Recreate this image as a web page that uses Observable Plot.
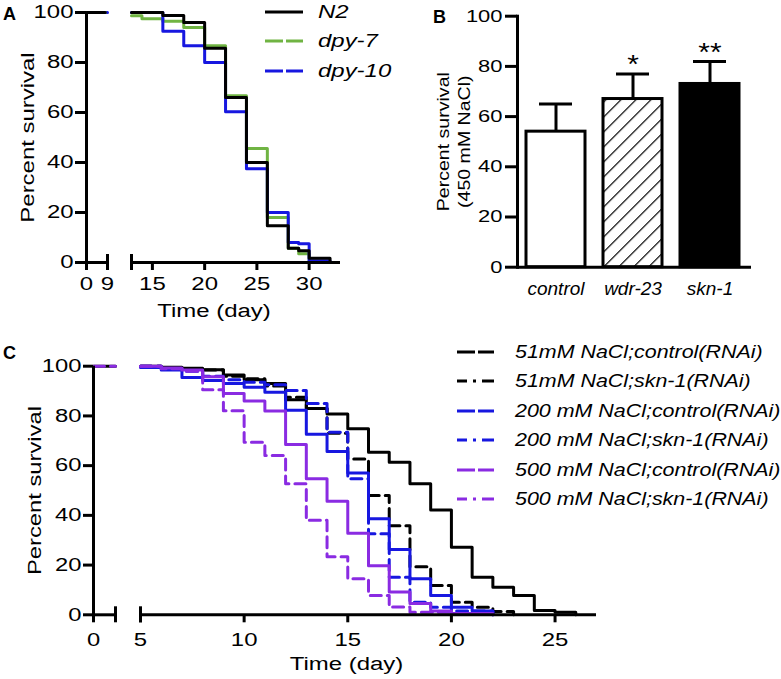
<!DOCTYPE html>
<html><head><meta charset="utf-8">
<script src="https://cdn.jsdelivr.net/npm/d3@7"></script>
<script src="https://cdn.jsdelivr.net/npm/@observablehq/plot@0.6"></script>
<style>
body{margin:0;background:#fff;}
#fig{position:relative;width:781px;height:679px;overflow:hidden;font-family:"Liberation Sans",Arial,Helvetica,sans-serif;color:#000;}
.lab{position:absolute;font-weight:bold;font-size:18px;line-height:18px;}
.legrow{position:absolute;height:18px;line-height:18px;white-space:nowrap;font-size:18px;font-style:italic;}
.legrow svg{position:absolute;left:0;top:0;overflow:visible;}
.legrow span{position:absolute;top:0;display:inline-block;transform-origin:0 50%;}
</style></head><body><div id="fig"></div>
<script>
// ---------- DATA ----------
// Panel A: survival (%) of N2, dpy-7, dpy-10; value at a day holds until the next day listed
const aEarlyDays = [0, 8];
const aEarlyDaysDpy10 = [0, 9];
const aEarlySurv = [100, 100];
const aN2Days = [13, 16, 18, 20, 22, 24, 26, 28, 29, 30, 32];
const aN2Surv = [100, 98.8, 96, 85.7, 66, 40, 14.7, 5.7, 4.7, 1.7, 0];
const aDpy7Days = [13, 14, 16, 18, 20, 22, 24, 26, 28, 29, 30];
const aDpy7Surv = [98.7, 97.5, 96.5, 94, 86.7, 66.7, 45.6, 18, 5.7, 3.5, 0];
const aDpy10Days = [13, 16, 18, 20, 22, 24, 26, 28, 29, 30, 32];
const aDpy10Surv = [100, 92.5, 86.7, 80, 60.3, 37.5, 20, 8, 7.5, 0.7, 0];
const aYTicks = [0, 20, 40, 60, 80, 100];
const aLeftTicks = [0, 9];
const aRightTicks = [15, 20, 25, 30];
const aLegend = ["N2", "dpy-7", "dpy-10"];

// Panel B: percent survival on 450 mM NaCl
const bCats = ["control", "wdr-23", "skn-1"];
const bMean = [54, 67, 73];
const bUpper = [65, 77, 82];
const bSig = ["", "*", "**"];
const bYTicks = [0, 20, 40, 60, 80, 100];

// Panel C: survival (%) from day 5 onward, one value per day
const cEarlyDays = [0, 1];
const cEarlySurv = [100, 100];
const cDays = [5, 6, 7, 8, 9, 10, 11, 12, 13, 14, 15, 16, 17, 18, 19, 20, 21, 22, 23, 24, 25, 26, 27];
const c51Control = [100, 99.6, 99.2, 98.6, 96.5, 94.5, 93, 86.5, 83, 80.8, 74.8, 65.4, 61.4, 52.7, 42.2, 27.2, 15.1, 11.1, 7.8, 1.7, 1.0, 0];
const c51Skn1 = [100, 99.5, 99, 98.5, 96, 95, 92, 87.5, 83, 73, 62.7, 48, 35.8, 19.3, 11.8, 5, 3, 1.3, 0];
const c200Control = [99.5, 98.5, 95.5, 94.2, 93, 91.5, 89.5, 82.3, 72.6, 65.7, 57, 38.6, 26.3, 14.5, 7.8, 3, 1.5, 0];
const c200Skn1 = [100, 99, 98, 96, 94.5, 93.5, 92.5, 90.2, 85, 73.4, 54.7, 32.6, 15.1, 5, 3, 1.5, 1.5, 0];
const c500Control = [100, 99.3, 98.5, 95.8, 89, 86, 82, 68.5, 54.7, 45.7, 32.8, 19.7, 9.2, 4.5, 1.5, 0.5, 0.5, 0];
const c500Skn1 = [100, 99, 98, 90.5, 82.1, 69.4, 64.1, 52.7, 38, 23.4, 14.5, 7.8, 3.1, 1, 1, 0];
const cYTicks = [0, 20, 40, 60, 80, 100];
const cLeftTicks = [0];
const cRightTicks = [5, 10, 15, 20, 25];
const cLegend = ["51mM NaCl;control(RNAi)", "51mM NaCl;skn-1(RNAi)", "200 mM NaCl;control(RNAi)",
                 "200 mM NaCl;skn-1(RNAi)", "500 mM NaCl;control(RNAi)", "500 mM NaCl;skn-1(RNAi)"];

// ---------- STYLE ----------
const FONT = "'Liberation Sans', Arial, Helvetica, sans-serif";
const GREEN = "#70b443", BLUE = "#1717e0", PURPLE = "#8a2be2";
const SW = 3;
const DASH = "11,6";
const baseStyle = {fontFamily: FONT, background: "transparent", overflow: "visible", fontSize: "18px", color: "black"};
const fig = document.getElementById("fig");
const fmt = d3.format("d");

function steps(days, vals) { return vals.map((v, i) => ({day: days[i], v})); }
function place(svg, left, top) {
  svg.style.position = "absolute"; svg.style.left = left + "px"; svg.style.top = top + "px";
  fig.appendChild(svg); return svg;
}
function stretch(svg, f, sel) {
  svg.querySelectorAll(sel || "text").forEach(t => {
    const parts = t.querySelectorAll("tspan");
    const els = parts.length ? Array.from(parts) : [t];
    els.forEach(e => {
      const L = e.getComputedTextLength();
      if (L > 0) { e.setAttribute("textLength", (L * f).toFixed(2)); e.setAttribute("lengthAdjust", "spacingAndGlyphs"); }
    });
  });
}
function stepLine(days, vals, stroke, dash) {
  return Plot.line(steps(days, vals), {x: "day", y: "v", curve: "step-after", stroke, strokeWidth: SW, strokeDasharray: dash || null});
}
const yAxis = (ticks, size, pad, fs) => Plot.axisY({ticks, tickSize: size, tickPadding: pad, strokeWidth: SW, fontSize: fs, label: null, tickFormat: fmt});
const xAxis = (ticks, pad) => Plot.axisX({ticks, tickSize: 8, tickPadding: pad, strokeWidth: SW, fontSize: 18, label: null, tickFormat: fmt});
const cap = (v) => Plot.ruleX([v], {y1: 0, y2: 0, insetTop: 8, insetBottom: 8, strokeWidth: SW});
const yTitle = (t, dx, fs, lh) => Plot.text([t], {text: d => d, frameAnchor: "left", rotate: -90, dx, fontSize: fs, lineHeight: lh || 1, textAnchor: "middle", lineAnchor: "middle"});
const xTitle = (t, dx, dy) => Plot.text([t], {text: d => d, frameAnchor: "bottom", dx, dy, fontSize: 18, textAnchor: "middle", lineAnchor: "middle"});

// ---------- PANEL A ----------
const aL = place(Plot.plot({
  width: 110, height: 300, marginLeft: 86, marginRight: 3, marginTop: 12, marginBottom: 38,
  style: baseStyle, x: {domain: [0, 9]}, y: {domain: [0, 100]},
  marks: [
    stepLine(aEarlyDaysDpy10, aEarlySurv, BLUE),
    stepLine(aEarlyDays, aEarlySurv, GREEN),
    stepLine(aEarlyDays, aEarlySurv, "black"),
    yAxis(aYTicks, 11, 2, 18),
    xAxis(aLeftTicks, 7),
    Plot.ruleX([0], {strokeWidth: SW}),
    Plot.ruleY([0], {strokeWidth: SW}),
    cap(9),
    yTitle("Percent survival", -58, 18)
  ]
}), 0, 0);
stretch(aL, 1.33);

const aR = place(Plot.plot({
  width: 230, height: 300, marginLeft: 11, marginRight: 10, marginTop: 12, marginBottom: 38,
  style: baseStyle, x: {domain: [13, 33]}, y: {domain: [0, 100], axis: null},
  marks: [
    stepLine(aDpy7Days, aDpy7Surv, GREEN),
    stepLine(aDpy10Days, aDpy10Surv, BLUE),
    stepLine(aN2Days, aN2Surv, "black"),
    xAxis(aRightTicks, 7),
    Plot.ruleY([0], {strokeWidth: SW}),
    cap(13),
    xTitle("Time (day)", -22, 49)
  ]
}), 120, 0);
stretch(aR, 1.33);

// ---------- PANEL B ----------
const bData = bCats.map((c, i) => ({cat: c, mean: bMean[i], upper: bUpper[i], sig: bSig[i]}));
const bFills = ["white", "url(#hatch)", "black"];
const bSvg = place(Plot.plot({
  width: 380, height: 300, marginLeft: 127, marginRight: 19, marginTop: 15.7, marginBottom: 33.3,
  style: baseStyle,
  x: {type: "band", domain: bCats, range: [135.5, 349.5], paddingInner: 0.24, paddingOuter: 0},
  y: {domain: [0, 100]},
  marks: [
    Plot.ruleX(bData, {x: "cat", y1: "mean", y2: "upper", strokeWidth: SW}),
    Plot.tickY(bData, {x: "cat", y: "upper", strokeWidth: SW, insetLeft: 13, insetRight: 13}),
    ...bCats.map((c, i) => Plot.barY(bData.filter(d => d.cat === c), {x: "cat", y: "mean", fill: bFills[i], stroke: "black", strokeWidth: SW})),
    Plot.text(bData, {x: "cat", y: "upper", text: "sig", dy: -9, fontSize: 26, lineAnchor: "middle"}),
    yAxis(bYTicks, 12, 3, 17),
    Plot.axisX({tickSize: 0, tickPadding: 14, fontSize: 19, fontStyle: "italic", label: null}),
    Plot.frame({anchor: "left", strokeWidth: SW}),
    Plot.ruleY([0], {strokeWidth: SW}),
    yTitle("Percent survival\n(450 mM NaCl)", -64.5, 17, 1.24)
  ]
}), 390, 0);
{
  const defs = d3.select(bSvg).insert("defs", ":first-child");
  const p = defs.append("pattern").attr("id", "hatch").attr("patternUnits", "userSpaceOnUse")
    .attr("width", 10.6).attr("height", 10.6).attr("patternTransform", "rotate(45)");
  p.append("rect").attr("width", 10.6).attr("height", 10.6).attr("fill", "white");
  p.append("line").attr("x1", 0).attr("y1", 0).attr("x2", 0).attr("y2", 10.6).attr("stroke", "black").attr("stroke-width", 2.4);
}
stretch(bSvg, 1.29, '[aria-label="y-axis tick label"] text');
stretch(bSvg, 1.15, '[aria-label="text"] text');

// ---------- PANEL C ----------
const cL = place(Plot.plot({
  width: 125, height: 339, marginLeft: 93, marginRight: 10, marginTop: 25.7, marginBottom: 64.7,
  style: baseStyle, x: {domain: [0, 1]}, y: {domain: [0, 100]},
  marks: [
    stepLine(cEarlyDays, cEarlySurv, "black"),
    stepLine(cEarlyDays, cEarlySurv, PURPLE, DASH),
    yAxis(cYTicks, 10, 2, 18),
    xAxis(cLeftTicks, 10),
    Plot.ruleX([0], {strokeWidth: SW}),
    Plot.ruleY([0], {strokeWidth: SW}),
    cap(1),
    yTitle("Percent survival", -58, 18)
  ]
}), 0, 340);
stretch(cL, 1.32);

const cR = place(Plot.plot({
  width: 480, height: 339, marginLeft: 10, marginRight: 14, marginTop: 25.7, marginBottom: 64.7,
  style: baseStyle, x: {domain: [5, 27]}, y: {domain: [0, 100], axis: null},
  marks: [
    stepLine(cDays, c51Control, "black"),
    stepLine(cDays, c51Skn1, "black", DASH),
    stepLine(cDays, c200Control, BLUE),
    stepLine(cDays, c200Skn1, BLUE, DASH),
    stepLine(cDays, c500Control, PURPLE),
    stepLine(cDays, c500Skn1, PURPLE, DASH),
    xAxis(cRightTicks, 10),
    Plot.ruleY([0], {strokeWidth: SW}),
    cap(5),
    xTitle("Time (day)", -22, 49)
  ]
}), 130, 340);
stretch(cR, 1.33);

// ---------- LEGENDS & PANEL LETTERS ----------
function legendRow(label, cy, lineX, lineW, textX, stroke, dash, factor) {
  const row = document.createElement("div");
  row.className = "legrow";
  row.style.left = lineX + "px"; row.style.top = (cy - 9) + "px";
  row.innerHTML = `<svg width="${lineW}" height="18"><line x1="0" x2="${lineW}" y1="9" y2="9" stroke="${stroke}" stroke-width="3" ${dash ? `stroke-dasharray="${dash}"` : ""}/></svg>` +
    `<span style="left:${textX - lineX}px;transform:scaleX(${factor})">${label}</span>`;
  fig.appendChild(row);
}
const aLegY = [12, 41, 71];
const aLegStroke = ["black", GREEN, BLUE];
const aLegDash = [null, "18,3", "18,3"];
aLegend.forEach((l, i) => legendRow(l, aLegY[i], 265, 38, 318, aLegStroke[i], aLegDash[i], 1.33));

const cLegY = [351.7, 381, 410.7, 440, 470, 499.3];
const cLegStroke = ["black", "black", BLUE, BLUE, PURPLE, PURPLE];
const cLegDash = ["18,3", "10,6,3,6,12", "18,3", "10,6,3,6,12", "18,3", "10,6,3,6,12"];
cLegend.forEach((l, i) => legendRow(l, cLegY[i], 457, 37, 515, cLegStroke[i], cLegDash[i], 1.19));

[["A", 3, 5], ["B", 433, 8], ["C", 3, 344]].forEach(([t, x, y]) => {
  const d = document.createElement("div"); d.className = "lab"; d.textContent = t;
  d.style.left = x + "px"; d.style.top = y + "px"; fig.appendChild(d);
});
</script></body></html>
